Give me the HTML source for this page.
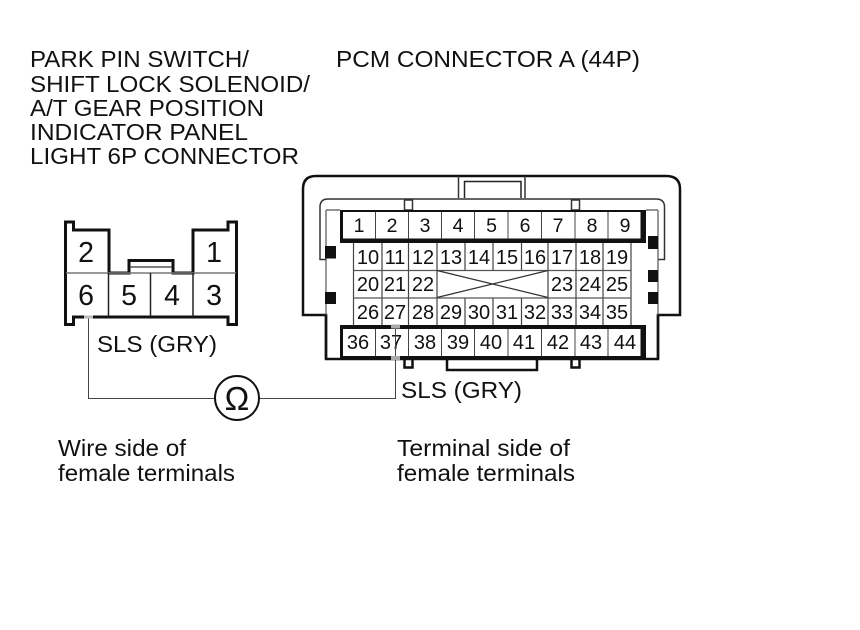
<!DOCTYPE html>
<html><head><meta charset="utf-8"><style>
html,body{margin:0;padding:0;background:#fff;width:860px;height:630px;overflow:hidden}
svg{display:block}
text{font-family:"Liberation Sans",sans-serif;fill:#111}
.l{font-size:23px}
.n{font-size:19.500px;text-anchor:middle}
.m{font-size:20px;text-anchor:middle}
.p{font-size:28.500px;text-anchor:middle}
</style></head><body>
<svg width="860" height="630" viewBox="0 0 860 630" xmlns="http://www.w3.org/2000/svg">
<g>
<text x="30" y="67" class="l" textLength="219" lengthAdjust="spacingAndGlyphs">PARK PIN SWITCH/</text>
<text x="30" y="92" class="l" textLength="280" lengthAdjust="spacingAndGlyphs">SHIFT LOCK SOLENOID/</text>
<text x="30" y="116" class="l" textLength="234" lengthAdjust="spacingAndGlyphs">A/T GEAR POSITION</text>
<text x="30" y="140" class="l" textLength="218" lengthAdjust="spacingAndGlyphs">INDICATOR PANEL</text>
<text x="30" y="164" class="l" textLength="269" lengthAdjust="spacingAndGlyphs">LIGHT 6P CONNECTOR</text>
<text x="336" y="67" class="l" textLength="304" lengthAdjust="spacingAndGlyphs">PCM CONNECTOR A (44P)</text>
<text x="97" y="352" class="l" textLength="120" lengthAdjust="spacingAndGlyphs">SLS (GRY)</text>
<text x="401" y="398" class="l" textLength="121" lengthAdjust="spacingAndGlyphs">SLS (GRY)</text>
<text x="58" y="456" class="l" textLength="128" lengthAdjust="spacingAndGlyphs">Wire side of</text>
<text x="58" y="481" class="l" textLength="177" lengthAdjust="spacingAndGlyphs">female terminals</text>
<text x="397" y="456" class="l" textLength="173" lengthAdjust="spacingAndGlyphs">Terminal side of</text>
<text x="397" y="481" class="l" textLength="178" lengthAdjust="spacingAndGlyphs">female terminals</text>
</g>

<!-- left connector -->
<path d="M65.500 222H73.500V230H109V273H129V260.500H173V273H193V230H228V222H236.500V324.500H228V317H73.500V324.500H65.500Z" fill="none" stroke="#111" stroke-width="3"/>
<path d="M66 273H236" stroke="#777" stroke-width="1.500"/>
<path d="M108.500 273V317M150.500 273V317M193 273V317" stroke="#222" stroke-width="1.500"/>
<path d="M130 267H172" stroke="#555" stroke-width="1.500"/>
<g>
<text x="86" y="262" class="p">2</text>
<text x="214" y="262" class="p">1</text>
<text x="86" y="305" class="p">6</text>
<text x="129" y="305" class="p">5</text>
<text x="172" y="305" class="p">4</text>
<text x="214" y="305" class="p">3</text>
</g>

<!-- PCM outer -->
<path d="M326 315H303V189Q303 176 316 176H666Q680 176 680 189V315H658V359H326Z" fill="none" stroke="#111" stroke-width="2.500"/>
<path d="M326 259.500H320V207Q320 199 328 199H656Q664.500 199 664.500 207V259.500H658" fill="none" stroke="#333" stroke-width="1.500"/>
<path d="M458.500 176V198M525 176V198" stroke="#333" stroke-width="1.500"/>
<path d="M464.500 198V181.500H521V198" fill="none" stroke="#222" stroke-width="1.500"/>
<path d="M326 210H340M646 210H658M326 210V315M658 210V315" fill="none" stroke="#555" stroke-width="1.200"/>
<rect x="404.500" y="200" width="8" height="10" fill="#fff" stroke="#333" stroke-width="1.500"/>
<rect x="571.500" y="200" width="8" height="10" fill="#fff" stroke="#333" stroke-width="1.500"/>
<path d="M404.500 359V367.500H412.500V359M571.500 359V367.500H579.500V359" fill="none" stroke="#111" stroke-width="2.500"/>
<path d="M447 359V370H537V359" fill="none" stroke="#111" stroke-width="2.500"/>
<path d="M326 315V359M658 315V359" stroke="#111" stroke-width="2.500"/>

<!-- black squares -->
<g fill="#111">
<rect x="325" y="246" width="11" height="12.500"/>
<rect x="325" y="292" width="11" height="12"/>
<rect x="648" y="236" width="10" height="13"/>
<rect x="648" y="270" width="10" height="12"/>
<rect x="648" y="292" width="10" height="12"/>
</g>

<!-- top row -->
<path d="M340 210H646V243H340Z" fill="#111"/>
<rect x="343" y="212" width="297.500" height="26.500" fill="#fff"/>
<path d="M375.500 212V239M408.500 212V239M441.500 212V239M474.500 212V239M508 212V239M541.500 212V239M575 212V239M608 212V239" stroke="#444" stroke-width="1"/>
<g>
<text x="359" y="232" class="n">1</text><text x="392" y="232" class="n">2</text><text x="425" y="232" class="n">3</text><text x="458" y="232" class="n">4</text><text x="491.500" y="232" class="n">5</text><text x="525" y="232" class="n">6</text><text x="558" y="232" class="n">7</text><text x="592" y="232" class="n">8</text><text x="625" y="232" class="n">9</text>
</g>

<!-- middle grid -->
<path d="M353.500 243V325M631 243V325M382 243V325M408.500 243V325M437 243V325M548 243V325M576 243V325M603 243V325M465 243V270M465 298V325M493 243V270M493 298V325M521.500 243V270M521.500 298V325" stroke="#444" stroke-width="1.200"/>
<path d="M353 270.500H631M353 298H631" stroke="#555" stroke-width="1.200"/>
<path d="M437 270.500L548 297.500M437 297.500L548 270.500" stroke="#333" stroke-width="1.200"/>
<g>
<text x="368" y="264" class="m">10</text><text x="395" y="264" class="m">11</text><text x="423" y="264" class="m">12</text><text x="451" y="264" class="m">13</text><text x="479" y="264" class="m">14</text><text x="507" y="264" class="m">15</text><text x="535" y="264" class="m">16</text><text x="562" y="264" class="m">17</text><text x="590" y="264" class="m">18</text><text x="617" y="264" class="m">19</text>
<text x="368" y="291" class="m">20</text><text x="395" y="291" class="m">21</text><text x="423" y="291" class="m">22</text><text x="562" y="291" class="m">23</text><text x="590" y="291" class="m">24</text><text x="617" y="291" class="m">25</text>
<text x="368" y="319" class="m">26</text><text x="395" y="319" class="m">27</text><text x="423" y="319" class="m">28</text><text x="451" y="319" class="m">29</text><text x="479" y="319" class="m">30</text><text x="507" y="319" class="m">31</text><text x="535" y="319" class="m">32</text><text x="562" y="319" class="m">33</text><text x="590" y="319" class="m">34</text><text x="617" y="319" class="m">35</text>
</g>

<!-- bottom row -->
<path d="M340 325H646V360H340Z" fill="#111"/>
<rect x="343" y="329" width="297.500" height="27" fill="#fff"/>
<path d="M375.500 329V356M408.500 329V356M441.500 329V356M474.500 329V356M508 329V356M541.500 329V356M575 329V356M608 329V356" stroke="#444" stroke-width="1"/>
<g>
<text x="358" y="349" class="m">36</text><text x="391" y="349" class="m">37</text><text x="425" y="349" class="m">38</text><text x="458" y="349" class="m">39</text><text x="491" y="349" class="m">40</text><text x="524" y="349" class="m">41</text><text x="558" y="349" class="m">42</text><text x="591" y="349" class="m">43</text><text x="625" y="349" class="m">44</text>
</g>

<!-- wires -->
<path d="M88.500 317V398.500H215M259 398.500H395.500V325" fill="none" stroke="#444" stroke-width="1"/>
<path d="M84 317H93" stroke="#bbb" stroke-width="3"/>
<path d="M391 326.500H400M391 358H400" stroke="#aaa" stroke-width="4"/>
<circle cx="237" cy="398" r="22" fill="#fff" stroke="#111" stroke-width="2"/>
<text x="237" y="410" text-anchor="middle" style="font-size:33px">Ω</text>
</svg>
</body></html>
